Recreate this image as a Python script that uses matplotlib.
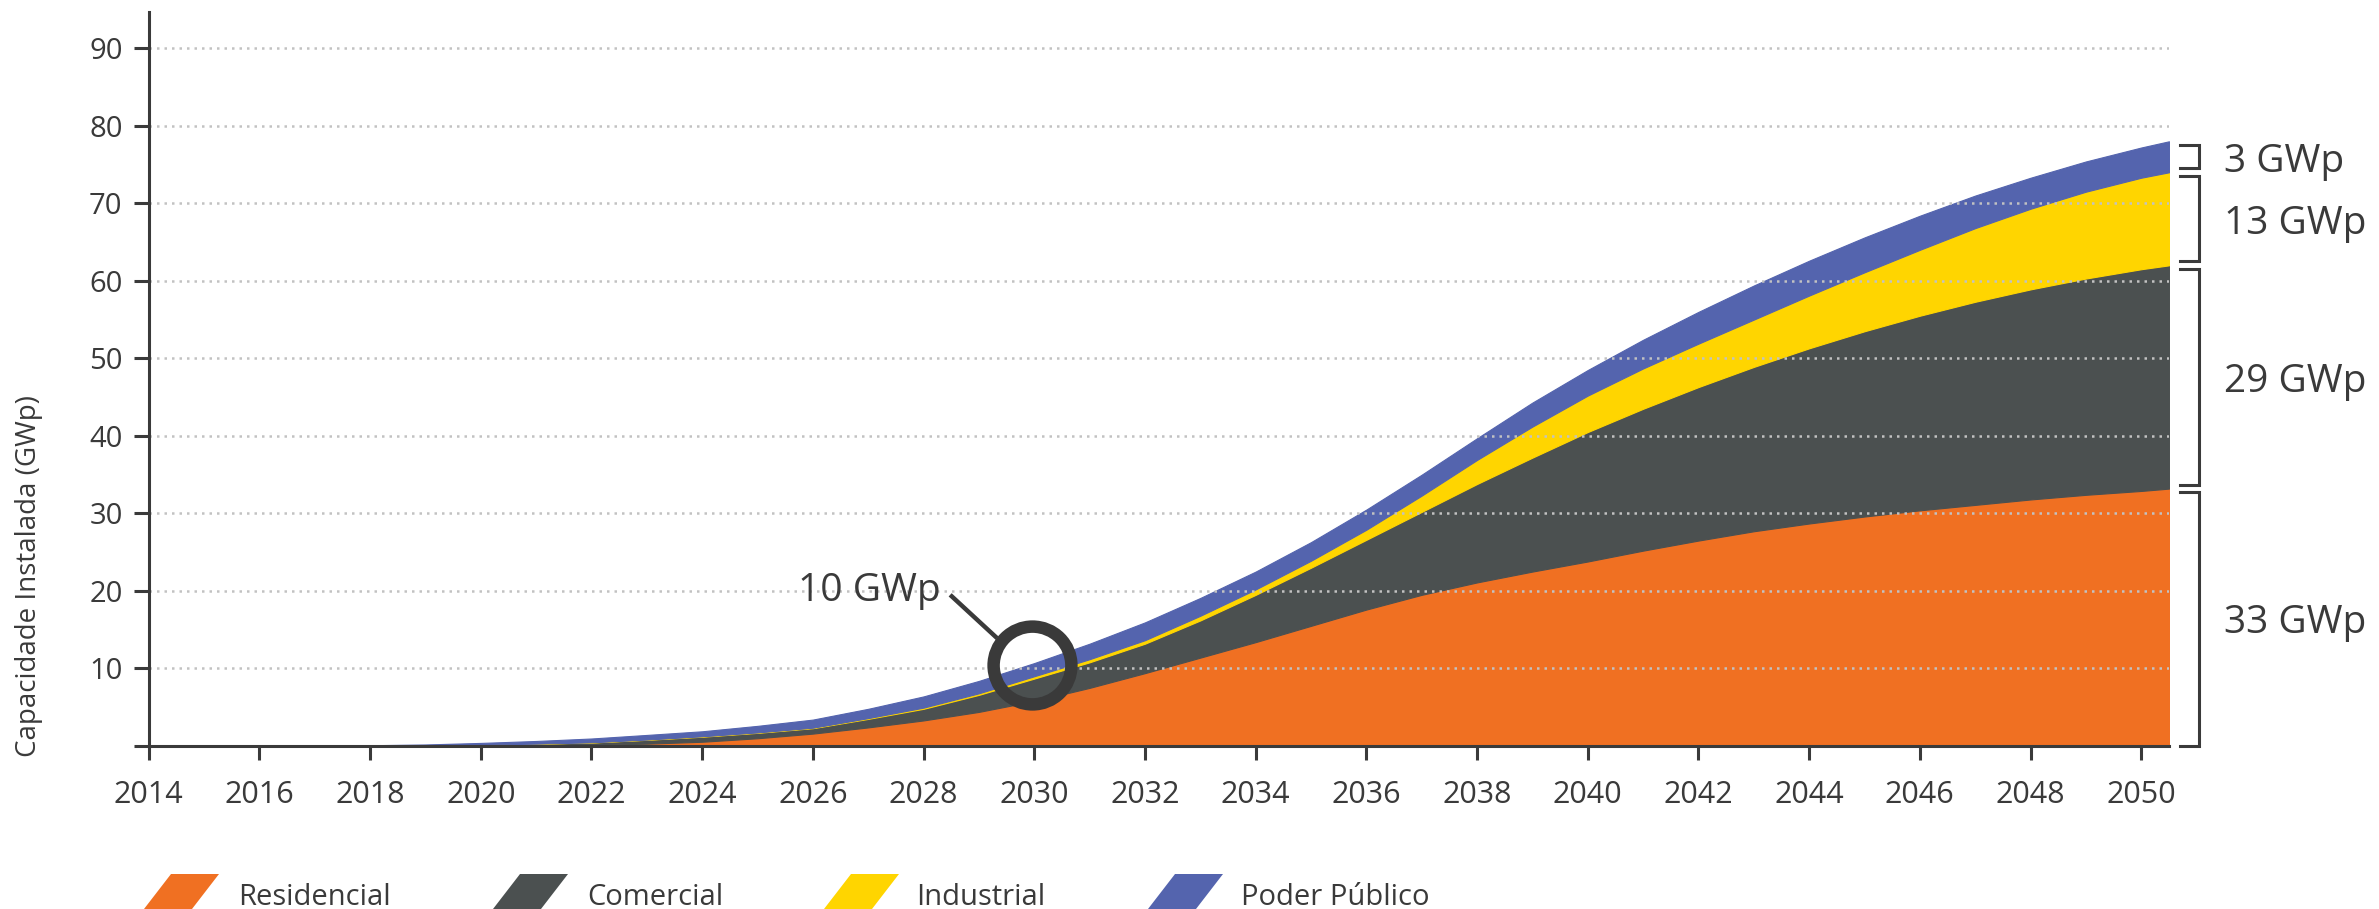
import matplotlib
matplotlib.use('Agg')
import matplotlib.pyplot as plt
from matplotlib.patches import Polygon
import numpy as np

plt.rcParams['font.family'] = ['Open Sans', 'DejaVu Sans']

# dados (GWp)
anos = list(range(2014, 2051)) + [2050.5]
residencial = [0.0, 0.0, 0.01, 0.02, 0.03, 0.05, 0.08, 0.1, 0.15, 0.3,
               0.55, 1.0, 1.6, 2.4, 3.3, 4.4, 5.8, 7.5, 9.4, 11.4,
               13.4, 15.5, 17.6, 19.5, 21.1, 22.5, 23.8, 25.2, 26.5, 27.7,
               28.7, 29.6, 30.4, 31.1, 31.8, 32.4, 32.9, 33.2]
comercial = [0.0, 0.0, 0.01, 0.01, 0.02, 0.05, 0.1, 0.2, 0.3, 0.5,
             0.65, 0.7, 0.7, 1.1, 1.5, 2.2, 2.9, 3.3, 3.8, 4.8,
             6.1, 7.5, 9.0, 10.7, 12.7, 14.7, 16.7, 18.3, 19.8, 21.2,
             22.6, 23.9, 25.1, 26.2, 27.1, 27.9, 28.6, 28.8]
industrial = [0.0, 0.0, 0.0, 0.0, 0.0, 0.0, 0.0, 0.0, 0.02, 0.03,
              0.05, 0.05, 0.06, 0.1, 0.15, 0.2, 0.3, 0.4, 0.45, 0.6,
              0.7, 0.9, 1.3, 2.1, 3.1, 4.0, 4.7, 5.2, 5.6, 6.1,
              6.8, 7.6, 8.5, 9.5, 10.4, 11.2, 11.8, 12.0]
poder_publico = [0.02, 0.03, 0.02, 0.03, 0.05, 0.1, 0.22, 0.35, 0.5, 0.6,
                 0.65, 0.85, 1.05, 1.2, 1.45, 1.6, 1.7, 2.0, 2.3, 2.3,
                 2.3, 2.4, 2.6, 2.7, 2.8, 3.1, 3.3, 3.7, 4.1, 4.4,
                 4.5, 4.5, 4.4, 4.2, 4.0, 3.9, 3.9, 4.0]

series = ['Residencial', 'Comercial', 'Industrial', 'Poder Público']
cores = ['#F07022', '#4B5050', '#FFD500', '#5464AE']
rotulos_dir = ['33 GWp', '29 GWp', '13 GWp', '3 GWp']

escuro = '#3a3a3a'

fig = plt.figure(figsize=(23.79, 9.09), dpi=100)
ax = fig.add_axes([0.0625, 0.1793, 0.8492, 0.8077])

polys = ax.stackplot(anos, residencial, comercial, industrial, poder_publico,
                     colors=cores, linewidth=0)
for p, c in zip(polys, cores):
    p.set_edgecolor(c)
    p.set_linewidth(0.8)

ax.set_xlim(2014, 2050.5)
ax.set_ylim(0, 94.7)

# grade pontilhada por cima das áreas
for v in range(10, 100, 10):
    ax.axhline(v, color='#c2c2c2', lw=1.8, ls=(0, (1, 2.0)), zorder=5)

ax.set_xticks(range(2014, 2051, 2))
ax.set_yticks(range(0, 100, 10))
ax.set_yticklabels([''] + [str(v) for v in range(10, 100, 10)])
ax.tick_params(axis='x', length=10, width=2.2, color=escuro, pad=14.5,
               labelsize=22, labelcolor=escuro)
ax.tick_params(axis='y', length=10.8, width=2.2, color=escuro, pad=8,
               labelsize=21, labelcolor=escuro)

for s in ['top', 'right']:
    ax.spines[s].set_visible(False)
for s in ['left', 'bottom']:
    ax.spines[s].set_color(escuro)
    ax.spines[s].set_linewidth(2.2)
    ax.spines[s].set_zorder(6)

fig.text(0.0122, 0.366, 'Capacidade Instalada (GWp)', rotation=90,
         ha='center', va='center', fontsize=20, color=escuro)

# chaves à direita com os totais de cada setor em 2050
acum = np.cumsum([residencial[-1], comercial[-1], industrial[-1], poder_publico[-1]])
base = 0
for topo, txt in zip(acum, rotulos_dir):
    y0, y1 = base + 0.5, topo - 0.5
    if base == 0:
        y0 = 0
    ax.plot([2050.7, 2051.05, 2051.05, 2050.7], [y0, y0, y1, y1],
            color=escuro, lw=2.2, clip_on=False, solid_joinstyle='miter')
    ax.text(2051.5, (base + topo) / 2 - 0.7, txt, ha='left', va='center',
            fontsize=28, color=escuro)
    base = topo

# destaque de 10 GWp em 2030
ax.plot([2028.48, 2029.33], [19.5, 13.9], color=escuro, lw=3.2,
        solid_capstyle='butt', zorder=7)
ax.plot(2029.95, 10.45, 'o', ms=56, mfc='none', mec=escuro, mew=9, zorder=8)
ax.text(2028.3, 20.0, '10 GWp', ha='right', va='center', fontsize=28,
        color=escuro, zorder=8)

# legenda com paralelogramos
W, H = 2379.0, 909.0
patch_x = [144, 493, 824, 1148]
texto_x = [238, 587, 916, 1241]
for px, tx, nome, c in zip(patch_x, texto_x, series, cores):
    pts = [(px, 909), (px + 48, 909), (px + 75, 874), (px + 27, 874)]
    pts = [(x / W, 1 - y / H) for x, y in pts]
    fig.patches.append(Polygon(pts, closed=True, facecolor=c, edgecolor='none',
                               transform=fig.transFigure))
    fig.text(tx / W, 1 - 905 / H, nome, ha='left', va='baseline',
             fontsize=21, color=escuro)

fig.savefig('out.png', dpi=100)
